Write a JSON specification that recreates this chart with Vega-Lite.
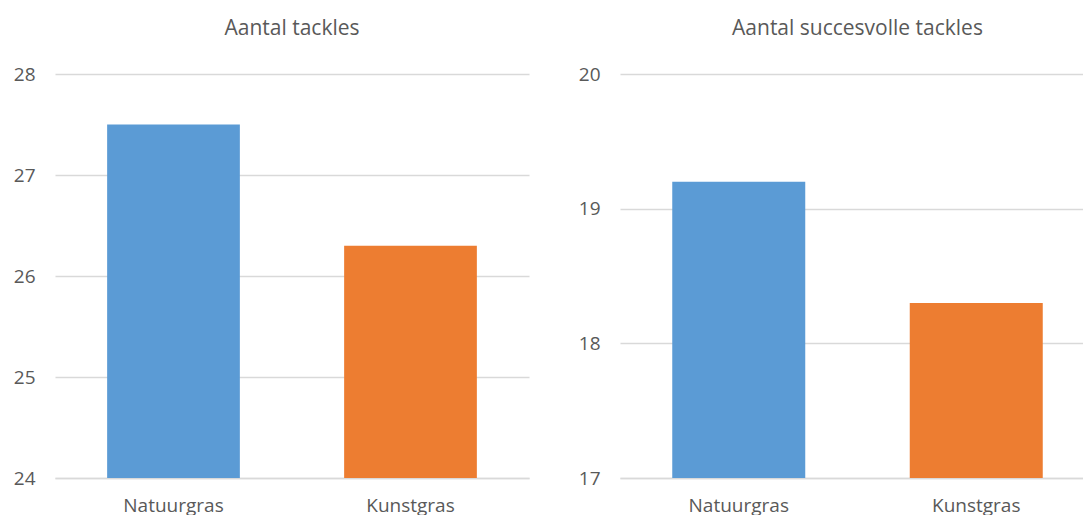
{
  "$schema": "https://vega.github.io/schema/vega-lite/v6.json",
  "padding": {"left": 0, "top": 18, "right": 0, "bottom": 0},
  "background": "white",
  "spacing": 36,
  "config": {
    "view": {"stroke": null},
    "font": "Open Sans",
    "axis": {"labelFont": "Open Sans", "labelFontSize": 19, "labelColor": "#595959", "gridColor": "#D9D9D9", "gridWidth": 1.3, "ticks": false, "title": null},
    "axisY": {"domain": false, "labelPadding": 20, "minExtent": 55, "maxExtent": 55},
    "axisX": {"domain": true, "domainColor": "#D9D9D9", "domainWidth": 1.3, "labelAngle": 0, "labelPadding": 18, "grid": false},
    "title": {"font": "Open Sans", "fontSize": 21, "fontWeight": "normal", "color": "#595959", "offset": 26},
    "scale": {"bandPaddingInner": 0.44, "bandPaddingOuter": 0.22}
  },
  "datasets": {
    "tackles": [
      {"ondergrond": "Natuurgras", "waarde": 27.5},
      {"ondergrond": "Kunstgras", "waarde": 26.3}
    ],
    "succes": [
      {"ondergrond": "Natuurgras", "waarde": 19.2},
      {"ondergrond": "Kunstgras", "waarde": 18.3}
    ]
  },
  "hconcat": [
    {
      "title": "Aantal tackles",
      "width": 474,
      "height": 404,
      "data": {"name": "tackles"},
      "mark": {"type": "bar", "clip": true},
      "encoding": {
        "x": {"field": "ondergrond", "type": "nominal", "sort": ["Natuurgras", "Kunstgras"]},
        "y": {"field": "waarde", "type": "quantitative", "scale": {"domain": [24, 28], "zero": false, "nice": false}, "axis": {"values": [24, 25, 26, 27, 28]}},
        "color": {"field": "ondergrond", "type": "nominal", "scale": {"domain": ["Natuurgras", "Kunstgras"], "range": ["#5B9BD5", "#ED7D31"]}, "legend": null}
      }
    },
    {
      "title": "Aantal succesvolle tackles",
      "width": 475,
      "height": 404,
      "data": {"name": "succes"},
      "mark": {"type": "bar", "clip": true},
      "encoding": {
        "x": {"field": "ondergrond", "type": "nominal", "sort": ["Natuurgras", "Kunstgras"]},
        "y": {"field": "waarde", "type": "quantitative", "scale": {"domain": [17, 20], "zero": false, "nice": false}, "axis": {"values": [17, 18, 19, 20]}},
        "color": {"field": "ondergrond", "type": "nominal", "scale": {"domain": ["Natuurgras", "Kunstgras"], "range": ["#5B9BD5", "#ED7D31"]}, "legend": null}
      }
    }
  ]
}
